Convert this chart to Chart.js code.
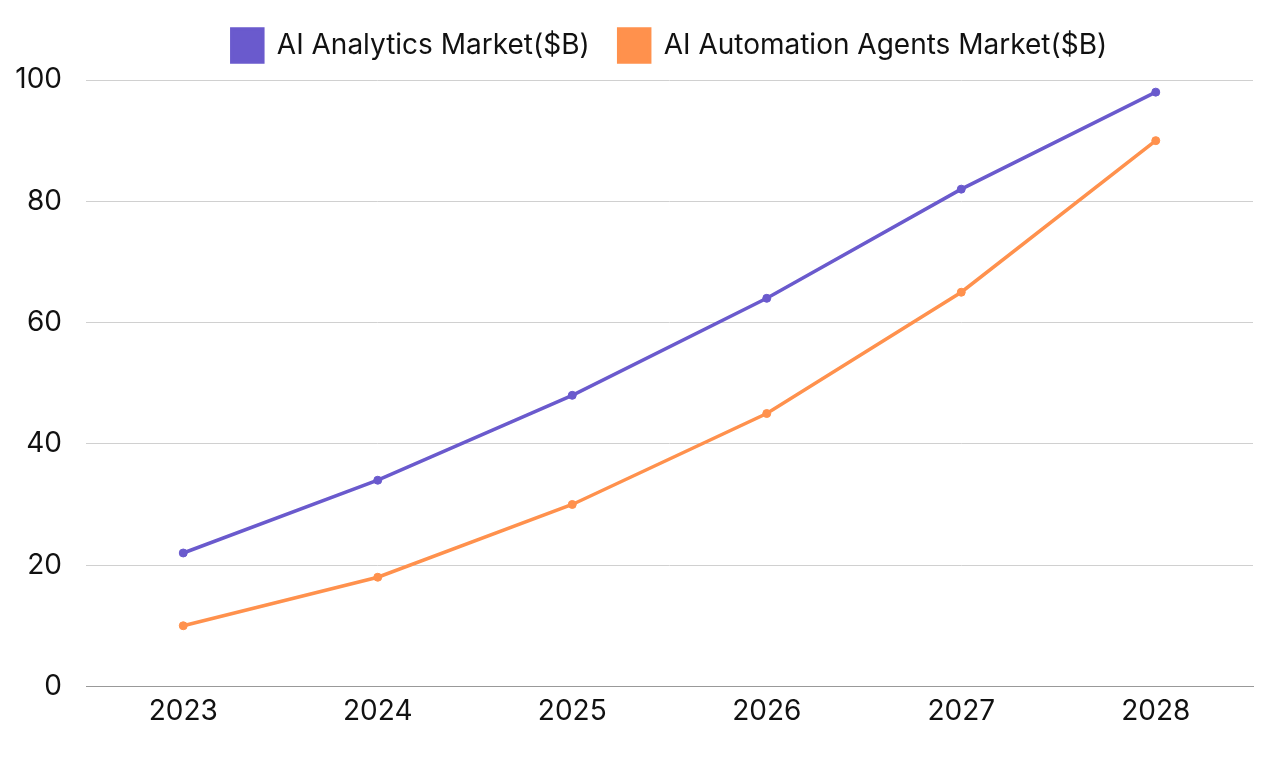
<!DOCTYPE html>
<html>
<head>
<meta charset="utf-8">
<script src="https://cdn.jsdelivr.net/npm/chart.js@4"></script>
<style>
  html, body { margin: 0; padding: 0; background: #fff; }
  #wrap { width: 1285px; height: 757px; }
</style>
</head>
<body>
<div id="wrap"><canvas id="marketChart"></canvas></div>
<script>
const years = ['2023', '2024', '2025', '2026', '2027', '2028'];
const analyticsMarket = [22, 34, 48, 64, 82, 98];
const automationMarket = [10, 18, 30, 45, 65, 90];

// legend: a little more room below, centred over the plot area instead of the canvas
const legendTweak = {
    id: 'legendTweak',
    beforeInit(chart) {
        const fit = chart.legend.fit;
        chart.legend.fit = function () {
            fit.bind(chart.legend)();
            this.height += 8;
        };
    },
    afterLayout(chart) {
        const lg = chart.legend;
        const shift = (chart.chartArea.left + chart.chartArea.right) / 2 - (lg.left + lg.right) / 2;
        lg.left += shift;
        lg.right += shift;
    }
};

document.addEventListener("DOMContentLoaded", function () {
    const ctx = document.getElementById('marketChart').getContext('2d');
    new Chart(ctx, {
        type: 'line',
        data: {
            labels: years,
            datasets: [{
                label: 'AI Analytics Market($B)',
                data: analyticsMarket,
                borderColor: '#6a5acd',
                backgroundColor: '#6a5acd',
                borderWidth: 3.5,
                pointRadius: 4,
                pointBorderWidth: 1,
                tension: 0
            }, {
                label: 'AI Automation Agents Market($B)',
                data: automationMarket,
                borderColor: '#ff914d',
                backgroundColor: '#ff914d',
                borderWidth: 3.5,
                pointRadius: 4,
                pointBorderWidth: 1,
                tension: 0
            }]
        },
        options: {
            responsive: true,
            maintainAspectRatio: false,
            animation: false,
            layout: { padding: { left: 16, right: 32, top: 0, bottom: 21 } },
            scales: {
                x: {
                    offset: true,
                    grid: { display: false, drawTicks: false },
                    border: { color: '#999' },
                    ticks: { color: '#111', font: { family: 'Inter', size: 28 }, padding: 8 }
                },
                y: {
                    min: 0,
                    max: 100,
                    afterFit: function (scale) { scale.width = 70; },
                    ticks: { stepSize: 20, color: '#111', font: { family: 'Inter', size: 28 }, padding: 24 },
                    grid: { color: '#d0d0d0', drawTicks: false },
                    border: { display: false }
                }
            },
            plugins: {
                legend: {
                    labels: {
                        color: '#111',
                        font: { family: 'Inter', size: 28 },
                        boxWidth: 31,
                        boxHeight: 33,
                        padding: 29
                    }
                },
                tooltip: { enabled: false }
            }
        },
        plugins: [legendTweak]
    });
});
</script>
</body>
</html>
